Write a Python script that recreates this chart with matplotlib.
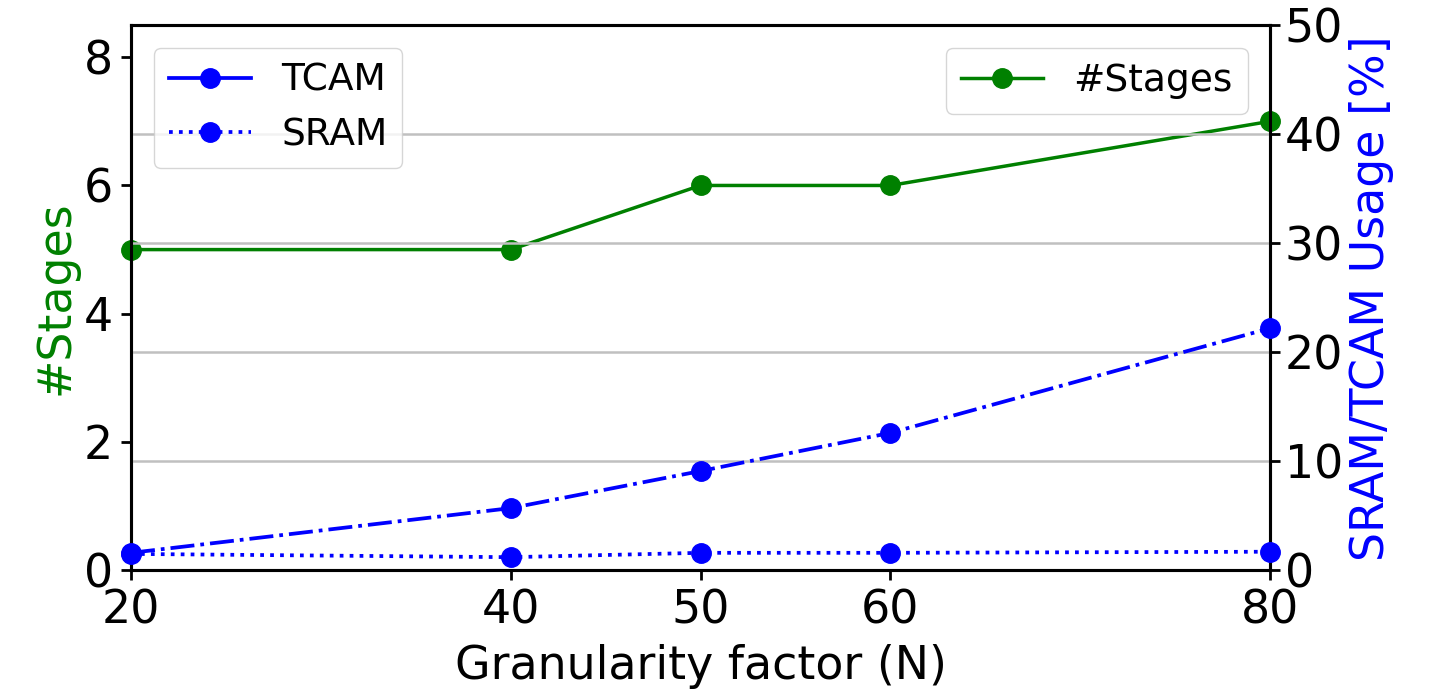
import numpy as np
import matplotlib
matplotlib.use("Agg")
import matplotlib.pyplot as plt
from matplotlib.lines import Line2D

# data
granularity = [20, 40, 50, 60, 80]
stages = [5, 5, 6, 6, 7]
tcam_usage = [1.6, 5.7, 9.1, 12.6, 22.2]
sram_usage = [1.5, 1.2, 1.6, 1.6, 1.7]

FS = 33

fig, ax = plt.subplots(figsize=(14.4, 6.98), dpi=100)
fig.subplots_adjust(left=0.091, right=0.882, top=0.964, bottom=0.183)
ax2 = ax.twinx()

ax.plot(granularity, stages, color="green", marker="o", markersize=14,
        linewidth=2.5, label="#Stages", clip_on=False, zorder=3)
ax2.plot(granularity, tcam_usage, color="blue", linestyle="-.", marker="o",
         markersize=14, linewidth=2.7, clip_on=False, zorder=3)
ax2.plot(granularity, sram_usage, color="blue", linestyle=":", marker="o",
         markersize=14, linewidth=2.7, clip_on=False, zorder=3)

ax.set_xlim(20, 80)
ax.set_xticks(granularity)
ax.set_ylim(0, 8.5)
ax.set_yticks([0, 2, 4, 6, 8])
ax2.set_ylim(0, 50)
ax2.set_yticks([0, 10, 20, 30, 40, 50])
ax2.grid(axis="y", color="#c0c0c0", linewidth=1.8)

ax.set_xlabel("Granularity factor (N)", fontsize=FS, labelpad=8)
ax.set_ylabel("#Stages", color="green", fontsize=FS)
ax2.set_ylabel("SRAM/TCAM Usage [%]", color="blue", fontsize=FS)
ax.tick_params(labelsize=FS, width=2, length=7, pad=6)
ax2.tick_params(labelsize=FS, width=2, length=7)
for a in (ax, ax2):
    for s in a.spines.values():
        s.set_linewidth(2.2)

# legend proxies (TCAM shown solid in the original)
handles = [Line2D([], [], color="blue", linestyle="-", marker="o", markersize=14, linewidth=2.7),
           Line2D([], [], color="blue", linestyle=":", marker="o", markersize=14, linewidth=2.7)]
ax2.legend(handles, ["TCAM", "SRAM"], loc="upper left", fontsize=27,
           handlelength=2.2, borderaxespad=0.6)
ax.legend(loc="upper right", fontsize=27, handlelength=2.2, borderaxespad=0.6)

fig.savefig("out.png", dpi=100)
